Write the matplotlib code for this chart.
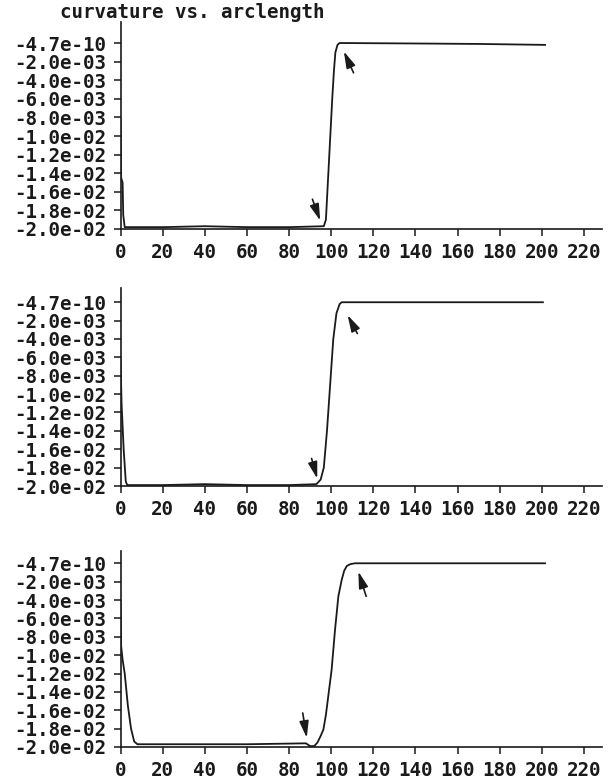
import matplotlib
matplotlib.use("Agg")
import matplotlib.pyplot as plt

# ---- data -------------------------------------------------------------
title_text = "curvature vs. arclength"

x_ticks = [0, 20, 40, 60, 80, 100, 120, 140, 160, 180, 200, 220]
x_tick_labels = [str(v) for v in x_ticks]
y_ticks = [0.0, -0.002, -0.004, -0.006, -0.008, -0.010,
           -0.012, -0.014, -0.016, -0.018, -0.020]
y_tick_labels = ["-4.7e-10", "-2.0e-03", "-4.0e-03", "-6.0e-03", "-8.0e-03",
                 "-1.0e-02", "-1.2e-02", "-1.4e-02", "-1.6e-02", "-1.8e-02",
                 "-2.0e-02"]

# panel 1
s1 = [0, 0.3, 1.0, 1.3, 2.0, 20, 40, 60, 80, 96.5, 97.5, 99.0, 100.5,
      101.3, 102.0, 103.0, 104.0, 140, 170, 201.5]
k1 = [-0.0081, -0.0145, -0.0150, -0.0185, -0.0198, -0.0198, -0.0197, -0.0198,
      -0.0198, -0.0197, -0.0190, -0.0125, -0.0060, -0.0030, -0.0010, -0.0002,
      0.0, -0.00005, -0.0001, -0.0002]

# panel 2
s2 = [0, 0.5, 1.5, 2.5, 3.2, 20, 40, 60, 80, 93.0, 95.0, 96.5, 98.0, 99.5,
      101.0, 102.5, 104.0, 105.0, 140, 170, 200.5]
k2 = [-0.0060, -0.0110, -0.0160, -0.0195, -0.0199, -0.0199, -0.0198, -0.0199,
      -0.0199, -0.0198, -0.0193, -0.0180, -0.0140, -0.0090, -0.0040, -0.0012,
      -0.0002, 0.0, 0.0, 0.0, 0.0]

# panel 3
s3 = [0, 0.3, 1.0, 2.0, 3.5, 5.0, 6.5, 8.0, 30, 60, 88.0, 90.0, 92.0, 93.5,
      95.0, 96.3, 97.5, 98.6, 100.2, 101.8, 103.4, 105.0, 106.2, 107.4,
      109.0, 111.3, 150, 201.5]
k3 = [-0.0041, -0.0090, -0.0105, -0.0120, -0.0155, -0.0180, -0.0194, -0.0197,
      -0.0197, -0.0197, -0.0196, -0.0199, -0.0199, -0.0195, -0.0188, -0.0181,
      -0.0165, -0.0145, -0.0116, -0.0073, -0.0036, -0.0018, -0.0008, -0.0003,
      -0.0001, 0.0, 0.0, 0.0]

# arrows: (tail_x, tail_y, head_x, head_y)
arrows1 = [(91.1, -0.0168, 94.8, -0.0191), (110.6, -0.0032, 106.0, -0.0009)]
arrows2 = [(90.7, -0.0170, 93.4, -0.0192), (112.4, -0.0034, 107.8, -0.0014)]
arrows3 = [(86.5, -0.0163, 88.4, -0.0190), (116.6, -0.0036, 112.9, -0.0009)]

y_tops = [0.00226, 0.00155, 0.00137]

# ---- layout -----------------------------------------------------------
W, H = 614, 784
fig = plt.figure(figsize=(W / 100, H / 100), dpi=100)
fig.patch.set_facecolor("white")

font = dict(family="DejaVu Sans Mono", weight="bold", size=13.8)
ink = "#1a1a1a"

# (left, right, top, bottom) in pixels
boxes = [(120.5, 601.7, 22, 229), (120.5, 601.7, 288, 486),
         (120.5, 601.7, 550.7, 747)]

series = [(s1, k1, arrows1), (s2, k2, arrows2), (s3, k3, arrows3)]

for (l, r, t, b), (s, k, arrs), ytop in zip(boxes, series, y_tops):
    ax = fig.add_axes([l / W, 1 - b / H, (r - l) / W, (b - t) / H])
    ax.plot(s, k, color=ink, lw=1.3)
    for tx, ty, hx, hy in arrs:
        ax.annotate("", xy=(hx, hy), xytext=(tx, ty),
                    arrowprops=dict(arrowstyle="-|>,head_length=1.0,head_width=0.28",
                                    color=ink, lw=1.2, shrinkA=0, shrinkB=0))
    ax.set_xlim(0, 228.4)
    ax.set_ylim(-0.02, ytop)
    ax.set_xticks(x_ticks)
    ax.set_xticklabels(x_tick_labels, fontdict=font)
    ax.set_yticks(y_ticks)
    ax.set_yticklabels(y_tick_labels, fontdict=font)
    for side in ("top", "right"):
        ax.spines[side].set_visible(False)
    for side in ("left", "bottom"):
        ax.spines[side].set_linewidth(1.2)
        ax.spines[side].set_color(ink)
    ax.tick_params(axis="both", direction="out", length=5, width=1.1,
                   colors=ink)
    ax.tick_params(axis="x", pad=5)
    ax.tick_params(axis="y", pad=5)
    ax.set_facecolor("white")

fig.text(60 / W, 1 - 18 / H, title_text, ha="left", va="baseline",
         color=ink, **font)

fig.savefig("out.png", dpi=100, facecolor="white")
